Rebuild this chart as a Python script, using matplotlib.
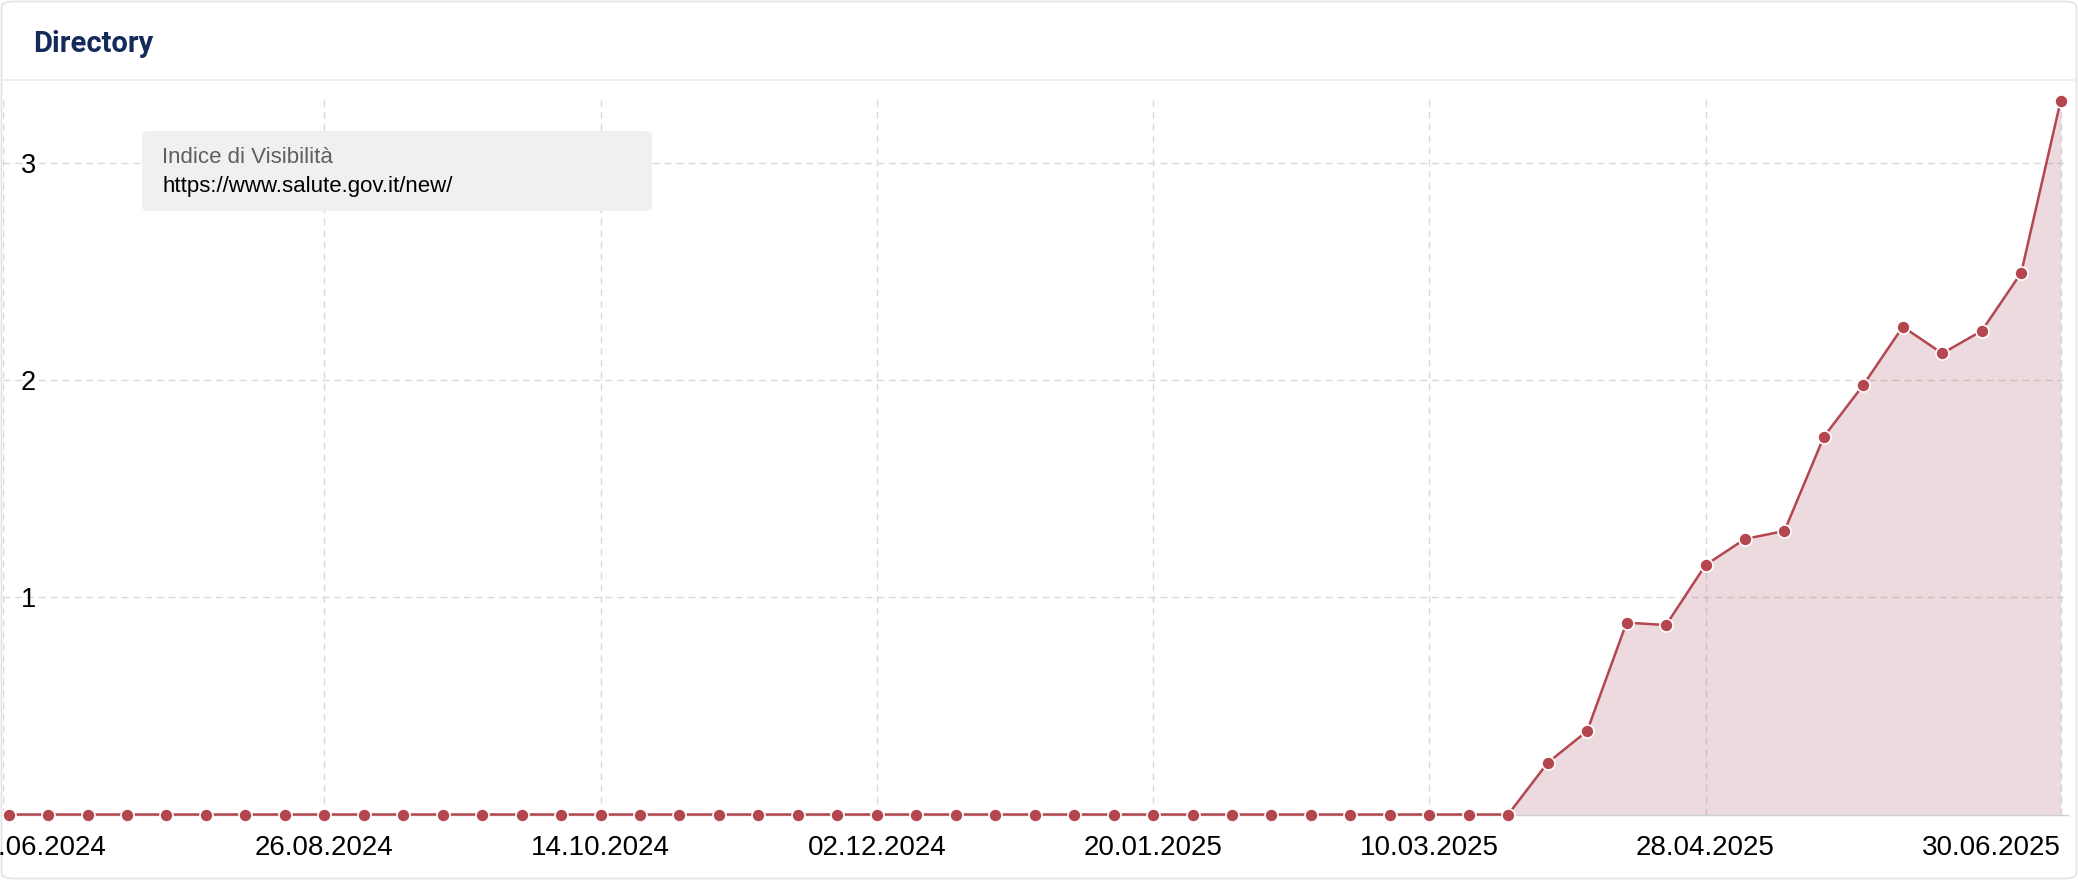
import pandas as pd
import matplotlib as mpl
mpl.use("Agg")
import matplotlib.pyplot as plt
import matplotlib.transforms as mtransforms
from matplotlib.patches import FancyBboxPatch
from matplotlib.lines import Line2D

# weekly visibility index, 01.07.2024 .. 30.06.2025
start_date = "2024-07-01"
n_weeks = 53
visibility = [
    0, 0, 0, 0, 0, 0, 0, 0, 0, 0,
    0, 0, 0, 0, 0, 0, 0, 0, 0, 0,
    0, 0, 0, 0, 0, 0, 0, 0, 0, 0,
    0, 0, 0, 0, 0, 0, 0, 0, 0,
    0.238, 0.384, 0.883, 0.872, 1.148, 1.268, 1.305,
    1.739, 1.977, 2.245, 2.122, 2.226, 2.493, 3.285,
]
tick_dates = ["2024-06-30", "2024-08-26", "2024-10-14", "2024-12-02",
              "2025-01-20", "2025-03-10", "2025-04-28", "2025-06-30"]
y_ticks = [1, 2, 3]

title = "Directory"
legend_title = "Indice di Visibilità"
legend_url = "https://www.salute.gov.it/new/"

line_color = "#b4464f"
grid_color = "#dadada"

W, H, DPI = 2078, 880, 100
fig = plt.figure(figsize=(W / DPI, H / DPI), dpi=DPI)
fig.patch.set_facecolor("white")

def px(x0, y0, x1, y1):
    # pixel box (from top-left) -> figure fraction rect
    return [x0 / W, 1 - y1 / H, (x1 - x0) / W, (y1 - y0) / H]

# card frame + header separator
card = FancyBboxPatch((1.5 / W, 1.5 / H), (W - 3) / W, (H - 3) / H,
                      boxstyle="round,pad=0,rounding_size=0.006",
                      transform=fig.transFigure, facecolor="none",
                      edgecolor="#e3e3e3", linewidth=1.2, zorder=-1)
fig.patches.append(card)
fig.lines.append(Line2D([0.001, 0.999], [1 - 80 / H, 1 - 80 / H],
                        transform=fig.transFigure, color="#ececec", lw=1.2))
fig.text(33 / W, 1 - 52 / H, title, fontsize=21, fontweight="bold",
         family="Roboto", color="#132a5a", va="baseline", ha="left")

ax = fig.add_axes(px(3, 99, 2068, 814.5))
ax.set_facecolor("none")

dates = pd.date_range(start_date, periods=n_weeks, freq="7D")
ax.fill_between(dates, visibility, 0, color="#a8485a", alpha=0.2, lw=0, zorder=1)
ax.plot(dates, visibility, color=line_color, lw=1.8, marker="o", ms=9.4,
        mfc=line_color, mec="white", mew=1.2, clip_on=False, zorder=3)

ax.set_xlim(pd.Timestamp("2024-06-30"), pd.Timestamp("2024-06-30") + pd.Timedelta(days=366.3))
ax.set_ylim(0, 3.293)

ticks = pd.to_datetime(tick_dates)
ax.set_xticks(ticks)
ax.set_xticklabels([d.strftime("%d.%m.%Y") for d in ticks])
ax.set_yticks(y_ticks)
ax.set_yticklabels([str(v) for v in y_ticks])

ax.grid(True, color=grid_color, lw=1.0, linestyle=(0, (5, 3.5)), zorder=0.5)
ax.set_axisbelow(True)

for s in ["top", "right", "left"]:
    ax.spines[s].set_visible(False)
ax.spines["bottom"].set_color("#cfcfcf")
ax.spines["bottom"].set_linewidth(1.0)

ax.tick_params(axis="x", length=0, pad=15, labelsize=20, labelcolor="black")
ax.tick_params(axis="y", length=0, pad=-13, labelsize=19.5, labelcolor="black")
for lab in ax.get_yticklabels():
    lab.set_horizontalalignment("left")
    lab.set_family("Liberation Sans")
xlabs = ax.get_xticklabels()
for lab in xlabs:
    lab.set_family("Liberation Sans")
# edge labels pushed inward like the source chart
xlabs[0].set_transform(xlabs[0].get_transform() +
                       mtransforms.ScaledTranslation(34 / DPI, 0, fig.dpi_scale_trans))
xlabs[-1].set_horizontalalignment("right")

# series label box
box = FancyBboxPatch((142 / W, 1 - 211 / H), (652 - 142) / W, (211 - 131) / H,
                     boxstyle="round,pad=0,rounding_size=0.004",
                     transform=fig.transFigure, facecolor="#f0f0f0",
                     edgecolor="none", zorder=5)
fig.patches.append(box)
fig.text(162 / W, 1 - 163 / H, legend_title, fontsize=16, family="Liberation Sans",
         color="#5f5f5f", va="baseline", ha="left", zorder=6)
fig.text(162 / W, 1 - 192 / H, legend_url, fontsize=16, family="Liberation Sans",
         color="black", va="baseline", ha="left", zorder=6)

fig.savefig("out.png", dpi=DPI)
